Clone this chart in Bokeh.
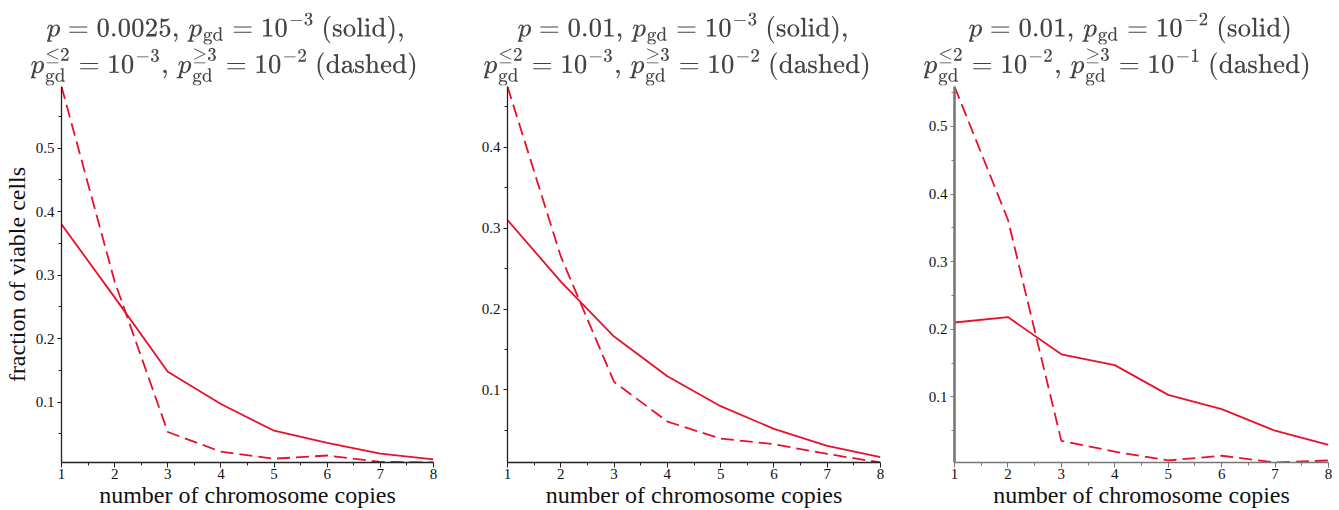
from bokeh.plotting import figure
from bokeh.layouts import row
from bokeh.models import FixedTicker, Range1d, Title
from bokeh.embed import file_html
from bokeh.resources import INLINE

copies = [1, 2, 3, 4, 5, 6, 7, 8]

solid_a = [0.380, 0.265, 0.148, 0.097, 0.055, 0.036, 0.019, 0.010]
dashed_a = [0.597, 0.290, 0.053, 0.022, 0.011, 0.016, 0.006, 0.005]
solid_b = [0.310, 0.234, 0.166, 0.117, 0.080, 0.052, 0.031, 0.017]
dashed_b = [0.475, 0.265, 0.110, 0.061, 0.040, 0.033, 0.021, 0.0104]
solid_c = [0.210, 0.218, 0.163, 0.147, 0.103, 0.082, 0.050, 0.029]
dashed_c = [0.559, 0.362, 0.035, 0.019, 0.006, 0.013, 0.003, 0.006]

titles = [
    (r"$$p = 0.0025,\, p_{\mathrm{gd}} = 10^{-3}\ \text{(solid)},$$",
     r"$$p_{\mathrm{gd}}^{\leq 2} = 10^{-3},\, p_{\mathrm{gd}}^{\geq 3} = 10^{-2}\ \text{(dashed)}$$"),
    (r"$$p = 0.01,\, p_{\mathrm{gd}} = 10^{-3}\ \text{(solid)},$$",
     r"$$p_{\mathrm{gd}}^{\leq 2} = 10^{-3},\, p_{\mathrm{gd}}^{\geq 3} = 10^{-2}\ \text{(dashed)}$$"),
    (r"$$p = 0.01,\, p_{\mathrm{gd}} = 10^{-2}\ \text{(solid)}$$",
     r"$$p_{\mathrm{gd}}^{\leq 2} = 10^{-2},\, p_{\mathrm{gd}}^{\geq 3} = 10^{-1}\ \text{(dashed)}$$"),
]

x_label = "number of chromosome copies"
y_label = "fraction of viable cells"
y_ticks = [0.1, 0.2, 0.3, 0.4, 0.5]
y_minor = [0.05, 0.15, 0.25, 0.35, 0.45, 0.55]
x_minor = [1.5, 2.5, 3.5, 4.5, 5.5, 6.5, 7.5]

RED = "#e8112b"
SERIF = "Liberation Serif"

series = [(solid_a, dashed_a), (solid_b, dashed_b), (solid_c, dashed_c)]
widths = [446, 446, 447]
lefts = [58, 61, 62]
rights = [13, 12, 11]
offs = [(-15, -31), (10, -24), (14, -31)]
axis_cols = ["#222222", "#222222", "#777777"]
axis_w = [1, 1, 2]

figs = []
for i, (s, d) in enumerate(series):
    lo = min(s + d)
    hi = max(s + d)
    p = figure(width=widths[i], height=510, output_backend="svg", toolbar_location=None,
               x_range=Range1d(1, 8), y_range=Range1d(lo, hi),
               min_border_left=lefts[i], min_border_right=rights[i],
               min_border_top=86, min_border_bottom=46,
               background_fill_color="white", border_fill_color="white")
    p.outline_line_color = None
    p.xgrid.grid_line_color = None
    p.ygrid.grid_line_color = None
    p.title.text = ""
    t2 = Title(text=titles[i][1], align="left", offset=offs[i][1],
               text_font_size="21.6px", text_font_style="normal", standoff=2)
    t1 = Title(text=titles[i][0], align="left", offset=offs[i][0],
               text_font_size="21.6px", text_font_style="normal", standoff=0)
    p.add_layout(t2, "above")
    p.add_layout(t1, "above")

    p.line(copies, s, line_color=RED, line_width=1.8)
    p.line(copies, d, line_color=RED, line_width=1.8, line_dash="13 6")

    xa = p.xaxis[0]
    xa.ticker = FixedTicker(ticks=copies, minor_ticks=x_minor)
    xa.axis_label = x_label
    xa.axis_label_text_font = SERIF
    xa.axis_label_text_font_style = "normal"
    xa.axis_label_text_font_size = "24px"
    xa.axis_label_text_color = "#111111"
    xa.axis_label_standoff = 0
    xa.major_label_text_font = SERIF
    xa.major_label_text_font_size = "15px"
    xa.major_label_text_color = "#111111"
    xa.major_label_standoff = 1
    xa.major_tick_out = 5
    xa.major_tick_in = 0
    xa.minor_tick_out = 3
    xa.minor_tick_in = 0
    xa.axis_line_color = axis_cols[i]
    xa.axis_line_width = 1.3
    xa.major_tick_line_color = axis_cols[i]
    xa.minor_tick_line_color = axis_cols[i]

    ya = p.yaxis[0]
    ya.ticker = FixedTicker(ticks=y_ticks, minor_ticks=y_minor)
    if i == 0:
        ya.axis_label = y_label
        ya.axis_label_text_font = SERIF
        ya.axis_label_text_font_style = "normal"
        ya.axis_label_text_font_size = "24px"
        ya.axis_label_text_color = "#111111"
        ya.axis_label_standoff = 3
    ya.major_label_text_font = SERIF
    ya.major_label_text_font_size = "15px"
    ya.major_label_text_color = "#111111"
    ya.major_label_standoff = 3
    ya.major_tick_out = 4
    ya.major_tick_in = 0
    ya.minor_tick_out = 3
    ya.minor_tick_in = 0
    ya.axis_line_color = axis_cols[i]
    ya.axis_line_width = axis_w[i] * 1.3
    ya.major_tick_line_color = axis_cols[i]
    ya.minor_tick_line_color = axis_cols[i]
    figs.append(p)

layout = row(*figs, spacing=0)
open("out.html", "w").write(file_html(layout, INLINE))
